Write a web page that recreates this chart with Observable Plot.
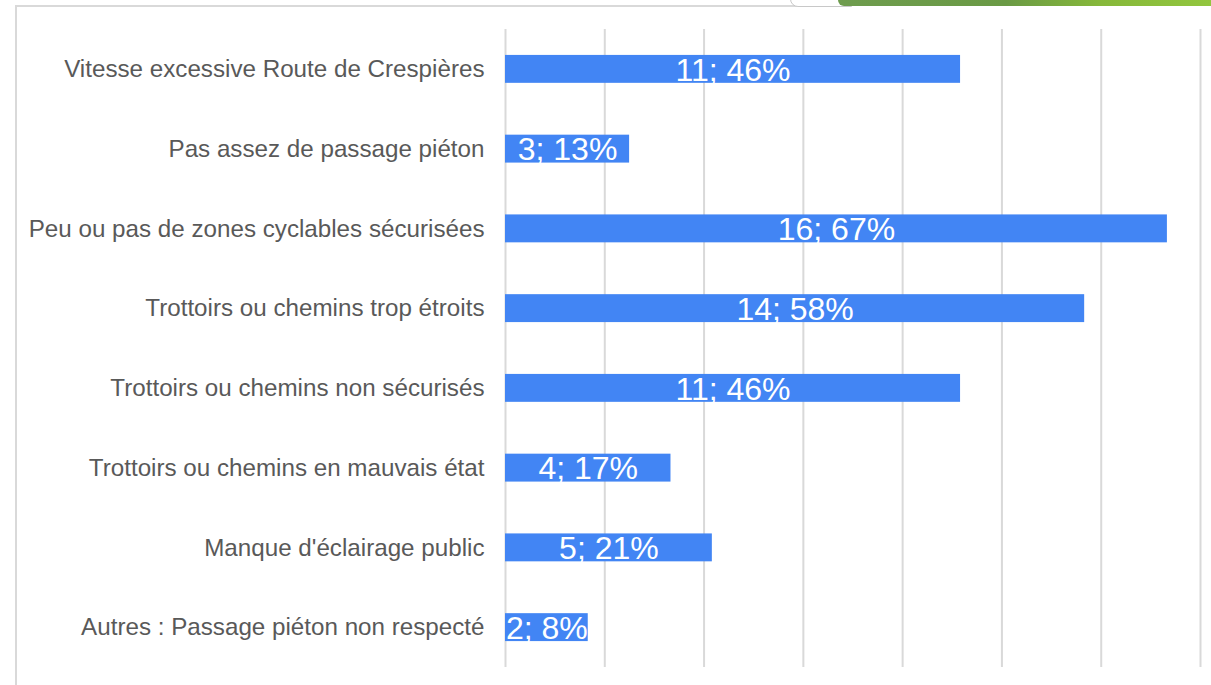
<!DOCTYPE html>
<html>
<head>
<meta charset="utf-8">
<script src="https://cdn.jsdelivr.net/npm/d3@7"></script>
<script src="https://cdn.jsdelivr.net/npm/@observablehq/plot@0.6"></script>
<style>
  html, body { margin: 0; padding: 0; background: #fff; }
  #wrap { position: relative; width: 1211px; height: 685px; overflow: hidden; }
  #frame { position: absolute; left: 15px; top: 5px; width: 780px; height: 700px;
           border-left: 2px solid #d9d9d9; border-top: 2px solid #d9d9d9; }
  #tab { position: absolute; left: 790px; top: -10px; width: 60px; height: 15px;
         border: 1.5px solid #c8c8c8; border-radius: 0 0 0 8px; background: #fff; }
  #green { position: absolute; left: 838px; top: 0; width: 373px; height: 6px;
           background: linear-gradient(to right, #6e9c4e 0%, #6a9a45 45%, #86b83a 70%, #92c63e 100%);
           border-radius: 0 0 0 6px; }
  #chart { position: absolute; left: 0; top: 0; }
</style>
</head>
<body>
<div id="wrap">
  <div id="frame"></div>
  <div id="tab"></div>
  <div id="green"></div>
  <div id="chart"></div>
</div>
<script>
const categories = [
  "Vitesse excessive Route de Crespières",
  "Pas assez de passage piéton",
  "Peu ou pas de zones cyclables sécurisées",
  "Trottoirs ou chemins trop étroits",
  "Trottoirs ou chemins non sécurisés",
  "Trottoirs ou chemins en mauvais état",
  "Manque d'éclairage public",
  "Autres : Passage piéton non respecté"
];
const counts = [11, 3, 16, 14, 11, 4, 5, 2];
const total = 24;
const gridTicks = [0, 10, 20, 30, 40, 50, 60, 70];

const data = categories.map((c, i) => ({
  cat: c,
  n: counts[i],
  pct: counts[i] / total * 100,
  label: `${counts[i]}; ${Math.round(counts[i] / total * 100)}%`
}));

const chart = Plot.plot({
  width: 1211,
  height: 685,
  marginTop: 29,
  marginBottom: 18,
  marginLeft: 505,
  marginRight: 11,
  style: { fontFamily: "'Liberation Sans', Arial, sans-serif", background: "transparent" },
  x: { domain: [0, 70], axis: null },
  y: { domain: categories, paddingInner: 0.65, paddingOuter: 0.325, round: false, label: null },
  marks: [
    Plot.ruleX(gridTicks, { stroke: "#d9d9d9", strokeWidth: 2 }),
    Plot.barX(data, { x: "pct", y: "cat", fill: "#4285F4" }),
    Plot.text(data, { x: d => d.pct / 2, y: "cat", text: "label", fill: "white", fontSize: 32, dy: 1 }),
    Plot.axisY({ tickSize: 0, tickPadding: 21, fontSize: 24.2, color: "#595959", label: null })
  ]
});
document.getElementById("chart").appendChild(chart);
</script>
</body>
</html>
